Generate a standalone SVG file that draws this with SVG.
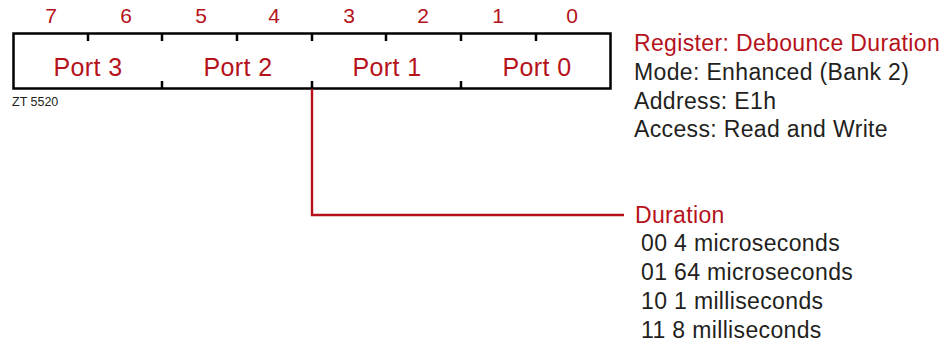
<svg xmlns="http://www.w3.org/2000/svg" width="946" height="343" viewBox="0 0 946 343">
  <style>
    text { font-family: "Liberation Sans", Arial, sans-serif; }
    .bit { fill: #b5121b; font-size: 21px; text-anchor: middle; }
    .port { fill: #b5121b; font-size: 25px; letter-spacing: 0.4px; text-anchor: middle; }
    .title { fill: #b5121b; font-size: 23px; letter-spacing: 0.35px; }
    .info { fill: #231f20; font-size: 23px; letter-spacing: 0.35px; }
    .tag { fill: #231f20; font-size: 12.5px; }
    .frame { fill: none; stroke: #000; stroke-width: 2.5; }
    .tick { stroke: #000; stroke-width: 2.5; }
    .lead { fill: none; stroke: #b5121b; stroke-width: 2.4; }
  </style>

  <!-- register box -->
  <g id="register">
    <rect class="frame" x="13.5" y="33.5" width="597" height="55"/>
    <line class="tick" x1="88" y1="33" x2="88" y2="41"/>
    <line class="tick" x1="162" y1="33" x2="162" y2="41"/>
    <line class="tick" x1="237" y1="33" x2="237" y2="41"/>
    <line class="tick" x1="312" y1="33" x2="312" y2="41"/>
    <line class="tick" x1="386" y1="33" x2="386" y2="41"/>
    <line class="tick" x1="461" y1="33" x2="461" y2="41"/>
    <line class="tick" x1="536" y1="33" x2="536" y2="41"/>
    <line class="tick" x1="162" y1="81" x2="162" y2="89"/>
    <line class="tick" x1="312" y1="81" x2="312" y2="89"/>
    <line class="tick" x1="461" y1="81" x2="461" y2="89"/>
    <text class="bit" x="51" y="23">7</text>
    <text class="bit" x="126" y="23">6</text>
    <text class="bit" x="201" y="23">5</text>
    <text class="bit" x="274" y="23">4</text>
    <text class="bit" x="349" y="23">3</text>
    <text class="bit" x="423" y="23">2</text>
    <text class="bit" x="498" y="23">1</text>
    <text class="bit" x="572" y="23">0</text>
    <text class="port" x="88" y="76">Port 3</text>
    <text class="port" x="238" y="76">Port 2</text>
    <text class="port" x="387" y="76">Port 1</text>
    <text class="port" x="537" y="76">Port 0</text>
    <text class="tag" x="12" y="106">ZT 5520</text>
  </g>

  <!-- register description -->
  <g id="description">
    <text class="title" x="634" y="51">Register: Debounce Duration</text>
    <text class="info" x="634" y="80">Mode: Enhanced (Bank 2)</text>
    <text class="info" x="634" y="109">Address: E1h</text>
    <text class="info" x="634" y="137">Access: Read and Write</text>
  </g>

  <!-- field legend -->
  <g id="duration">
    <text class="title" x="635" y="223">Duration</text>
    <text class="info" x="641" y="251">00 4 microseconds</text>
    <text class="info" x="641" y="280">01 64 microseconds</text>
    <text class="info" x="641" y="309">10 1 milliseconds</text>
    <text class="info" x="641" y="338">11 8 milliseconds</text>
  </g>

  <!-- connectors -->
  <g id="connectors">
    <polyline class="lead" points="312,89 312,215 624,215"/>
  </g>
</svg>
